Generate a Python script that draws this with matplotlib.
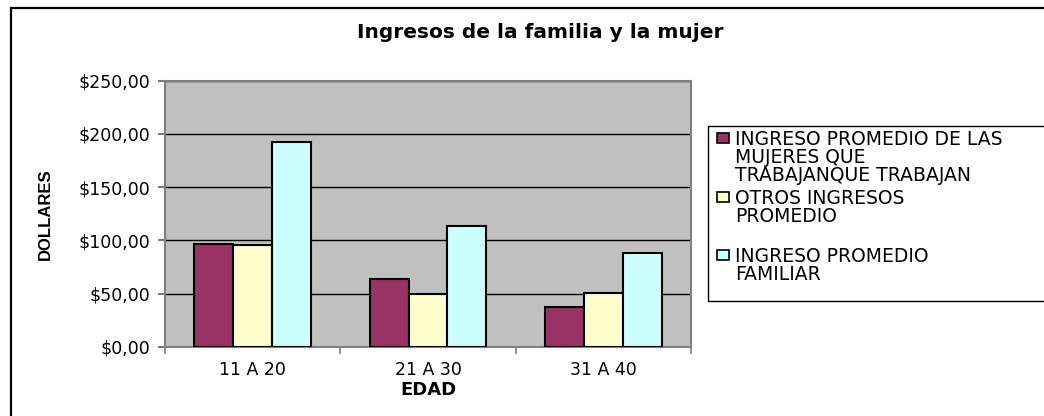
import numpy as np
import matplotlib
matplotlib.use("Agg")
import matplotlib.pyplot as plt
from matplotlib.patches import Rectangle

# data
categories = ["11 A 20", "21 A 30", "31 A 40"]
mujeres = [96.3, 64.1, 37.5]
otros = [95.4, 49.7, 50.9]
familiar = [192.0, 113.5, 88.5]
series_labels = ["INGRESO PROMEDIO DE LAS\nMUJERES QUE\nTRABAJANQUE TRABAJAN",
                 "OTROS INGRESOS\nPROMEDIO",
                 "INGRESO PROMEDIO\nFAMILIAR"]
colors = ["#993366", "#FFFFCC", "#CCFFFF"]
yticks = [0, 50, 100, 150, 200, 250]

W, H = 1044, 416
fig = plt.figure(figsize=(W / 100, H / 100), dpi=100)

# outer chart border (runs off the right and bottom edges like the original)
fig.patches.append(Rectangle((11 / W, -0.1), 1.2, 1 - 8 / H + 0.1, transform=fig.transFigure,
                             fill=False, edgecolor="black", linewidth=1.6, clip_on=False))

ax = fig.add_axes([165.3 / W, 69 / H, 525.4 / W, 266.4 / H])
ax.set_facecolor("#C0C0C0")

x = np.arange(len(categories))
w = 1 / 4.5
for i, (vals, col) in enumerate(zip([mujeres, otros, familiar], colors)):
    ax.bar(x + (i - 1) * w, vals, w, color=col, edgecolor="black", linewidth=1.5, zorder=3)

ax.set_xlim(-0.5, len(categories) - 0.5)
ax.set_ylim(0, 250)
ax.set_yticks(yticks)
ax.set_yticklabels(["$%d,00" % v for v in yticks], fontsize=12.5, family="DejaVu Sans")
ax.yaxis.grid(True, color="black", linewidth=1)
ax.set_axisbelow(True)

ax.set_xticks(x)
ax.set_xticklabels(categories, fontsize=12.5, family="DejaVu Sans")
ax.set_xticks(np.arange(len(categories) + 1) - 0.5, minor=True)
ax.tick_params(axis="x", which="major", length=0, pad=10)
ax.tick_params(axis="x", which="minor", length=5, color="#808080", width=1.2)
ax.tick_params(axis="y", length=5, color="#606060", width=1.2, pad=6)
for s in ax.spines.values():
    s.set_color("#808080")
    s.set_linewidth(1.5)

ax.set_xlabel("EDAD", fontsize=13, fontweight="bold", family="DejaVu Sans", va="center")
ax.xaxis.set_label_coords(0.5, (347 - 390) / 266.4)
ax.set_ylabel("DOLLARES", fontsize=12, fontweight="bold", family="Liberation Sans", va="center")
ax.yaxis.set_label_coords((45 - 165.3) / 525.4, 0.5)

ax.set_title("Ingresos de la familia y la mujer", fontsize=14.5, fontweight="bold",
             family="DejaVu Sans", x=(540 - 165.3) / 525.4, y=(347 - 33) / 266.4,
             va="center", pad=0)

# legend box, also cut by the right edge in the original
fig.patches.append(Rectangle((708 / W, 1 - 301 / H), 0.5, (301 - 126) / H, transform=fig.transFigure,
                             fill=False, edgecolor="black", linewidth=1.0, clip_on=False))
first_line = [138, 197, 255]
for lab, col, y0 in zip(series_labels, colors, first_line):
    fig.patches.append(Rectangle((717 / W, 1 - (y0 + 5) / H), 12 / W, 10 / H, transform=fig.transFigure,
                                 facecolor=col, edgecolor="black", linewidth=1.2))
    fig.text(735 / W, 1 - (y0 - 8) / H, lab, fontsize=13.5, family="DejaVu Sans",
             va="top", ha="left", linespacing=0.93)

fig.savefig("out.png", dpi=100)
